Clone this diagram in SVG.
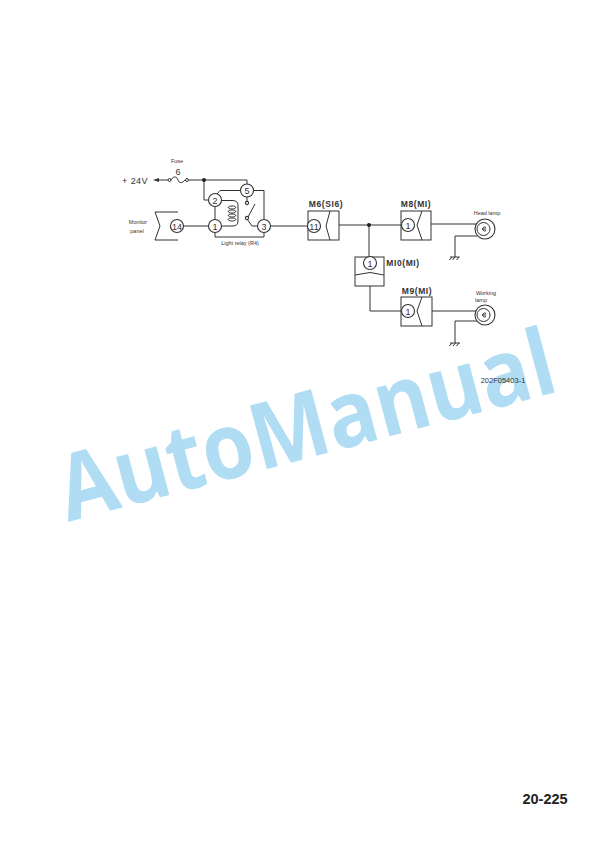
<svg xmlns="http://www.w3.org/2000/svg" width="612" height="865" viewBox="0 0 612 865">
<style>
.w{fill:none;stroke:#333;stroke-width:1}
.b{fill:#fff;stroke:#333;stroke-width:1}
.c{fill:#fff;stroke:#333;stroke-width:1.1}
.t{font-family:"Liberation Sans",Arial,sans-serif;fill:#333;text-anchor:middle}
.s{font-size:5.500px}
.m{font-size:8.500px;font-weight:bold;letter-spacing:.6px}
.n{font-size:9px}
</style>
<rect width="612" height="865" fill="#fff"/>
<text x="68" y="522" transform="rotate(-14.9 68 522)" font-family="Open Sans,Noto Sans,sans-serif" font-size="92" font-weight="700" fill="#b0dcf4" textLength="510" lengthAdjust="spacingAndGlyphs">AutoManual</text>
<g id="connectors" class="w">
<path d="M156 180H168M171 180C174 175 177 177 178 180S182 184 185 180M189 180H204M204 180V200H209M204 180H247V184"/>
<path d="M241 190.500H220L217 194M253 190.500H264V219M247 197V201"/>
<path d="M183 226H209M215 207V219"/>
<path d="M222 200.500H233Q238 201 238 205V221Q238 226 233 226H221"/>
<path d="M247 219L252 226H258M270 226H307M339 225H401M369 225V257M370 286V311H401M431 224H477M455 257V236H477M432 311H477M455 343V321H477"/>
</g>
<path d="M153 180L159 178V182Z" fill="#333"/>
<g id="fuse"><circle class="w" cx="169.500" cy="180" r="1.500"/><circle class="w" cx="187" cy="180" r="1.500"/><text x="177" y="163" class="t s">Fuse</text><text x="178" y="175" class="t n">6</text></g>
<text id="v24" x="135" y="184" class="t n" style="letter-spacing:.4px">+ 24V</text>
<circle cx="204" cy="180" r="2" fill="#222"/>
<circle cx="369" cy="225" r="2" fill="#222"/>
<g id="monitor-panel"><path class="w" d="M178 212H155L160 226L155 240H178"/>
<circle class="c" cx="177" cy="226" r="6.500"/><text x="177" y="229.500" class="t n">14</text>
<text x="138" y="224" class="t s">Monitor</text><text x="137" y="233" class="t s">panel</text></g>
<g id="relay">
<path class="w" d="M215 232V237H264V232"/>
<circle class="c" cx="215" cy="200" r="6.500"/><text x="215" y="203.500" class="t n">2</text>
<circle class="c" cx="247" cy="190.500" r="6.500"/><text x="247" y="194" class="t n">5</text>
<circle class="c" cx="215" cy="226" r="6.500"/><text x="215" y="229.500" class="t n">1</text>
<circle class="c" cx="264" cy="226" r="6.500"/><text x="264" y="229.500" class="t n">3</text>
<path class="w" d="M232 206C227 206 227 209 232 209S237 206 232 206M232 210C227 210 227 213 232 213S237 210 232 210M232 214C227 214 227 217 232 217S237 214 232 214M232 218C227 218 227 221 232 221S237 218 232 218"/>
<circle class="c" cx="247" cy="203" r="1.600"/><circle class="c" cx="247" cy="218" r="1.600"/>
<path class="w" d="M248 217L255 204"/>
<text x="240" y="245" class="t s">Light relay (R4)</text></g>
<g id="m6"><rect class="b" x="308" y="211" width="31" height="29"/><path class="w" d="M330 211L326 226L330 240"/><circle class="c" cx="314" cy="226" r="6.500"/><text x="314" y="229.500" class="t n">11</text><text x="326" y="207" class="t m">M6(SI6)</text></g>
<g id="m8"><rect class="b" x="401" y="211" width="30" height="29"/><path class="w" d="M422 211L417 225L422 240"/><circle class="c" cx="408" cy="225" r="6.500"/><text x="408" y="228.500" class="t n">1</text><text x="416" y="207" class="t m">M8(MI)</text></g>
<g id="m10"><rect class="b" x="355" y="257" width="29" height="29"/><path class="w" d="M355 275L370 272.500L384 275"/><circle class="c" cx="370" cy="263" r="6.500"/><text x="370" y="266.500" class="t n">1</text><text x="403" y="266" class="t m">MI0(MI)</text></g>
<g id="m9"><rect class="b" x="401" y="297" width="31" height="29"/><path class="w" d="M422 297L417 311L422 326"/><circle class="c" cx="408" cy="311" r="6.500"/><text x="408" y="314.500" class="t n">1</text><text x="417" y="294" class="t m">M9(MI)</text></g>
<g id="head-lamp"><circle class="c" cx="485" cy="229" r="10"/><circle class="w" cx="483.500" cy="229" r="6.500"/><path class="w" d="M486 227.500A2 2 0 1 0 486 230.500M482 229H486"/><text x="487" y="215" class="t s">Head lamp</text></g>
<g id="working-lamp"><circle class="c" cx="485" cy="315" r="10"/><circle class="w" cx="483.500" cy="315" r="6.500"/><path class="w" d="M486 313.500A2 2 0 1 0 486 316.500M482 315H486"/><text x="486" y="295" class="t s">Working</text><text x="481" y="302" class="t s">lamp</text></g>
<g id="grounds" class="w"><path d="M450 257H459.500M452 257L449.500 260M455 257L452.500 260M459 257L456.500 260"/><path d="M450 343H460M452 343L449.500 346M455.500 343L453 346M459 343L456.500 346"/></g>
<text x="503" y="383" class="t" style="font-size:7.500px">202F05403-1</text>
<text x="545" y="804" font-family="Liberation Sans,sans-serif" font-size="14.500" font-weight="bold" fill="#222" text-anchor="middle">20-225</text>
</svg>
